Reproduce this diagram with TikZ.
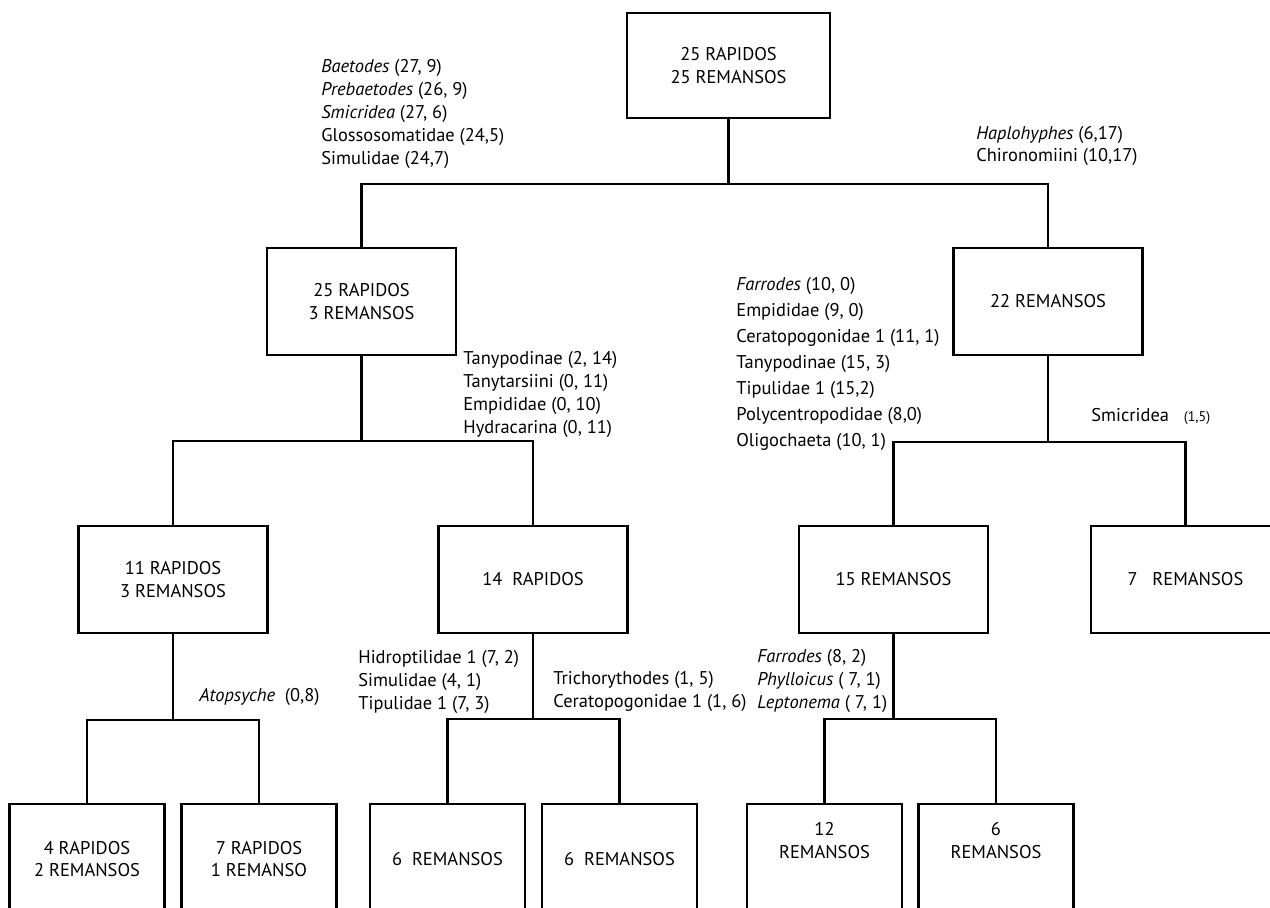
\documentclass[tikz,border=0pt]{standalone}
\usepackage{fontspec}
\setmainfont{PT Sans}
\usepackage{tikz}

\begin{document}
\begin{tikzpicture}[x=0.02cm, y=-0.02cm,
font=\fontsize{10.5}{13}\selectfont,
box/.style={draw, line width=1.4pt, align=center, inner sep=0pt},
big/.style={box, minimum width=3.78cm, minimum height=2.14cm},
leaf/.style={box, minimum width=3.1cm, minimum height=2.2cm},
note/.style={anchor=west, align=left, inner sep=0pt},
link/.style={line width=1.4pt}]

\useasboundingbox (0,0) rectangle (1270,907);
\clip (0,0) rectangle (1270,907);

\node[box, minimum width=4.06cm, minimum height=2.1cm] (root) at (728.5,65.5) {25 RAPIDOS\\25 REMANSOS};
\node[big] (rapB) at (361.5,301.5) {25 RAPIDOS\\3 REMANSOS};
\node[big] (rem22) at (1048,301.5) {22 REMANSOS};
\node[big] (r11) at (173,579.5) {11 RAPIDOS\\3 REMANSOS};
\node[big] (r14) at (533,579.5) {14~~RAPIDOS};
\node[big] (r15) at (893.5,579.5) {15 REMANSOS};
\node[big] (r7) at (1185.5,579.5) {7~~~REMANSOS};
\node[leaf] (b4) at (87,859) {4 RAPIDOS\\2~REMANSOS};
\node[leaf] (b7) at (259,859) {7 RAPIDOS\\1 REMANSO};
\node[leaf] (b6a) at (447.5,859) {6~~REMANSOS};
\node[leaf] (b6b) at (619.5,859) {6~~REMANSOS};
\node[leaf] (b12) at (824.5,859) {12\\REMANSOS\\[8pt]};
\node[leaf] (b6c) at (996,859) {6\\REMANSOS\\[8pt]};

\foreach \up/\lft/\rgt/\drop in {root/rapB/rem22/65, rapB/r11/r14/85, rem22/r15/r7/86,
  r11/b4/b7/86, r14/b6a/b6b/85, r15/b12/b6c/85}{
  \draw[link] (\up.south) -- +(0,\drop) coordinate (j);
  \draw[link] (\lft.north) |- (j) -| (\rgt.north);
}

\node[note] (baet) at (321,114) {\textit{Baetodes} (27, 9)\\\textit{Prebaetodes} (26, 9)\\\textit{Smicridea} (27, 6)\\Glossosomatidae (24,5)\\Simulidae (24,7)};
\node[note] (haplo) at (976,146) {\textit{Haplohyphes} (6,17)\\Chironomiini (10,17)};
\node[note] (tany) at (463,394.5) {Tanypodinae (2, 14)\\Tanytarsiini (0, 11)\\Empididae (0, 10)\\Hydracarina (0, 11)};
\node[note, font=\fontsize{10.5}{14.8}\selectfont] (farr1) at (736,364) {\textit{Farrodes} (10, 0)\\Empididae (9, 0)\\Ceratopogonidae 1 (11, 1)\\Tanypodinae (15, 3)\\Tipulidae 1 (15,2)\\Polycentropodidae (8,0)\\Oligochaeta (10, 1)};
\node[note] (smic) at (1091,416) {Smicridea\hspace{0.8em}{\footnotesize(1,5)}};
\node[note] (atop) at (199,697) {\textit{Atopsyche}~~(0,8)};
\node[note] (hidro) at (358,682) {Hidroptilidae 1 (7, 2)\\Simulidae (4, 1)\\Tipulidae 1 (7, 3)};
\node[note] (trich) at (553,691.5) {Trichorythodes (1, 5)\\Ceratopogonidae 1 (1, 6)};
\node[note] (farr2) at (757,681) {\textit{Farrodes} (8, 2)\\\textit{Phylloicus} ( 7, 1)\\\textit{Leptonema} ( 7, 1)};
\end{tikzpicture}
\end{document}
